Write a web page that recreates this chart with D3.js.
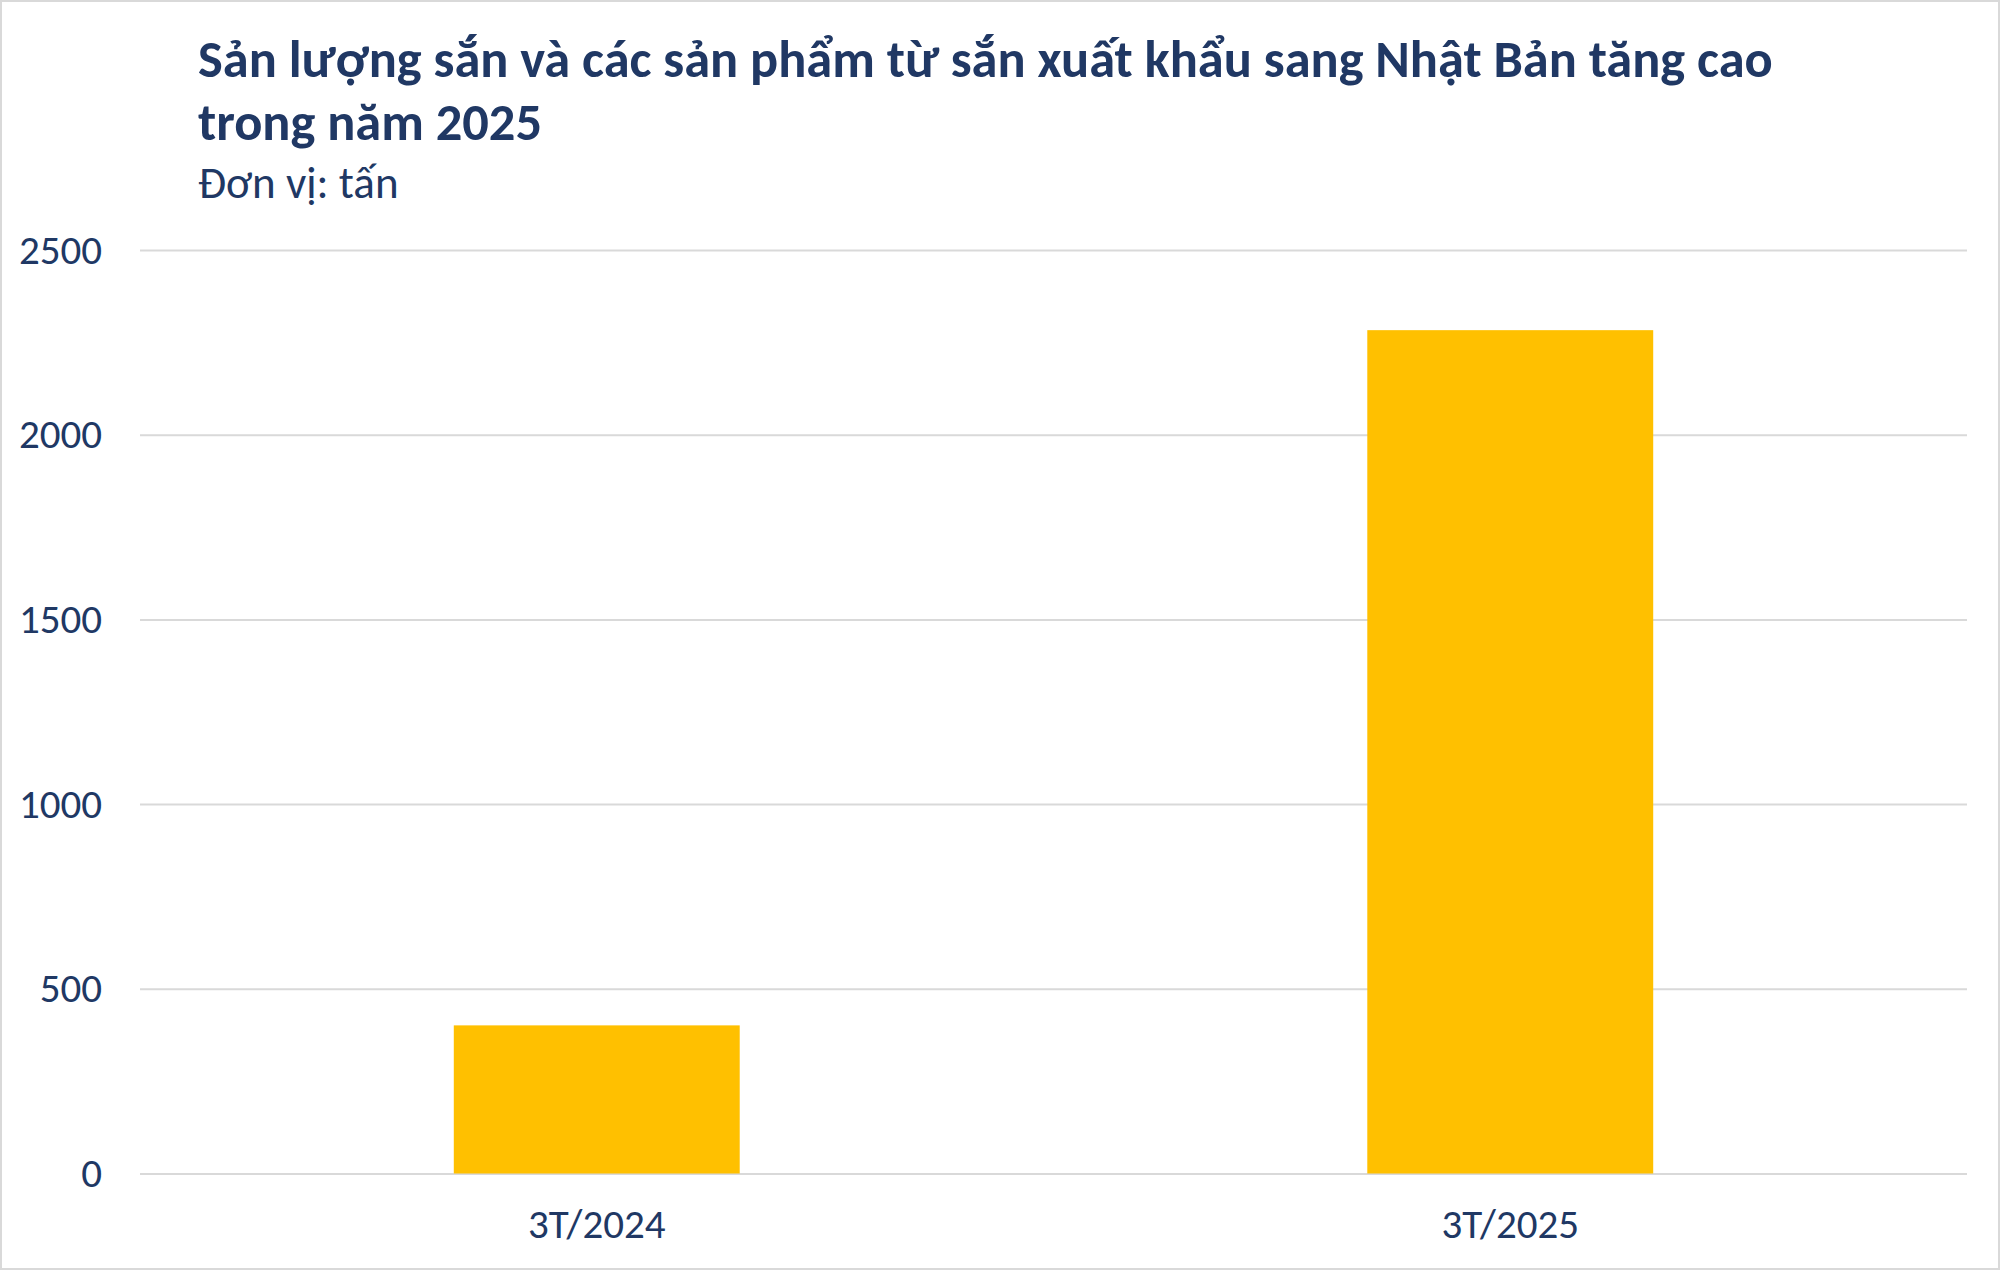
<html>
<head>
<meta charset="utf-8">
<script src="https://cdn.jsdelivr.net/npm/d3@7"></script>
<style>
  * { margin: 0; padding: 0; }
  body { background: #fff; }
  text { font-family: Carlito, Calibri, Lato, "Open Sans", sans-serif; fill: #203864; }
</style>
</head>
<body>
<div id="chart"></div>
<script>
// data
const categories = ["3T/2024", "3T/2025"];
const values = [401, 2283];
const yTicks = [0, 500, 1000, 1500, 2000, 2500];
const titleLines = [
  "Sản lượng sắn và các sản phẩm từ sắn xuất khẩu sang Nhật Bản tăng cao",
  "trong năm 2025"
];
const subtitle = "Đơn vị: tấn";

const w = 2000, h = 1270;
const plotLeft = 140, plotRight = 1967, plotTop = 250, plotBottom = 1173.5;

const svg = d3.select("#chart").append("svg")
  .attr("width", w).attr("height", h);

svg.append("rect")
  .attr("x", 1).attr("y", 1).attr("width", w - 2).attr("height", h - 2)
  .attr("fill", "#fff").attr("stroke", "#d9d9d9").attr("stroke-width", 2);

// titles
const title = svg.append("g");
title.selectAll("text.t").data(titleLines).enter().append("text")
  .attr("class", "t")
  .attr("x", 198)
  .attr("y", (d, i) => 77 + i * 63)
  .attr("font-size", 50)
  .attr("font-weight", 700)
  .text(d => d);

// fit the first title line to the width it has in the original
const first = title.select("text").node();
const len = first.getComputedTextLength();
title.selectAll("text").attr("font-size", 50 * 1575 / len);

svg.append("text")
  .attr("x", 198).attr("y", 198)
  .attr("font-size", 45)
  .text(subtitle);

const x = d3.scaleBand()
  .domain(categories)
  .range([plotLeft, plotRight])
  .paddingInner(0.687)
  .paddingOuter(0.3435);

const y = d3.scaleLinear()
  .domain([0, 2500])
  .range([plotBottom, plotTop]);

// gridlines + y labels
const yAxis = d3.axisLeft(y)
  .tickValues(yTicks)
  .tickSize(-(plotRight - plotLeft))
  .tickPadding(38)
  .tickFormat(d3.format("d"));

const gy = svg.append("g")
  .attr("transform", "translate(" + plotLeft + ",0)")
  .call(yAxis);
gy.select(".domain").remove();
gy.selectAll(".tick line").attr("stroke", "#d9d9d9").attr("stroke-width", 2);
gy.selectAll(".tick text")
  .attr("font-size", 41)
  .attr("fill", "#203864")
  .attr("font-family", null);

// bars
svg.selectAll("rect.bar")
  .data(values)
  .enter()
  .append("rect")
  .attr("class", "bar")
  .attr("x", (d, i) => x(categories[i]))
  .attr("y", d => y(d))
  .attr("width", x.bandwidth())
  .attr("height", d => y(0) - y(d))
  .attr("fill", "#ffc000");

// x labels
const xAxis = d3.axisBottom(x).tickSize(0).tickPadding(0);
const gx = svg.append("g")
  .attr("transform", "translate(0," + plotBottom + ")")
  .call(xAxis);
gx.select(".domain").remove();
gx.selectAll(".tick text")
  .attr("font-size", 41)
  .attr("fill", "#203864")
  .attr("font-family", null)
  .attr("dy", null)
  .attr("y", 64);
</script>
</body>
</html>
